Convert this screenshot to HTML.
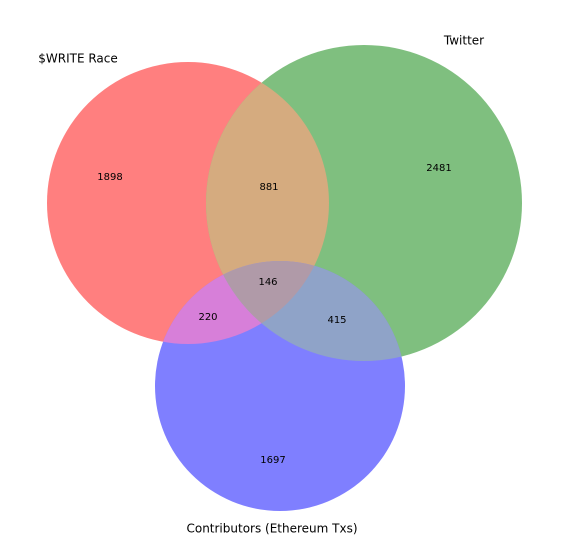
<!DOCTYPE html>
<html><head><meta charset="utf-8">
<style>
html,body{margin:0;padding:0;background:#fff;}
svg{display:block;font-family:"DejaVu Sans","Liberation Sans",sans-serif;}
</style></head>
<body>
<svg id="chart" width="568" height="558" viewBox="0 0 568 558">
<defs>
<clipPath id="cR"><circle cx="188" cy="203" r="141"/></clipPath>
<clipPath id="cG"><circle cx="364" cy="203" r="158"/></clipPath>
<clipPath id="cB"><circle cx="280" cy="386" r="125"/></clipPath>
</defs>
<g id="regions"></g>
<g id="labels"></g>
</svg>
<script>
const setNames = ["$WRITE Race", "Twitter", "Contributors (Ethereum Txs)"];
const setLabelX = [78, 464, 272];
const setLabelY = [59, 41, 529];
const regionIds = ["100", "010", "001", "110", "101", "011", "111"];
const regionCounts = [1898, 2481, 1697, 881, 220, 415, 146];
const regionLabelX = [110, 439, 273, 269, 208, 337, 268];
const regionLabelY = [177, 168, 460, 187, 317, 320, 282];

const NS = "http://www.w3.org/2000/svg";
const circles = [{cx:188,cy:203,r:141,clip:"cR"},{cx:364,cy:203,r:158,clip:"cG"},{cx:280,cy:386,r:125,clip:"cB"}];
const colors = {"100":"#ff7f7f","010":"#7fbf7f","001":"#7f7fff","110":"#d5ab7f","101":"#d77fd9","011":"#8fa3c8","111":"#b09aa8"};
const regionG = document.getElementById("regions");
const labelG = document.getElementById("labels");

regionIds.forEach((id) => {
  const idx = [...id].map((c,i)=>c==="1"?i:-1).filter(i=>i>=0);
  const base = circles[idx[0]];
  let el = document.createElementNS(NS, "circle");
  el.setAttribute("cx", base.cx); el.setAttribute("cy", base.cy); el.setAttribute("r", base.r);
  el.setAttribute("fill", colors[id]);
  
  
  let node = el;
  for (let k = 1; k < idx.length; k++) {
    const g = document.createElementNS(NS, "g");
    g.setAttribute("clip-path", "url(#" + circles[idx[k]].clip + ")");
    g.appendChild(node);
    node = g;
  }
  regionG.appendChild(node);
});

regionCounts.forEach((v, i) => {
  const t = document.createElementNS(NS, "text");
  t.setAttribute("x", regionLabelX[i]); t.setAttribute("y", regionLabelY[i]);
  t.setAttribute("text-anchor", "middle"); t.setAttribute("dominant-baseline", "middle");
  t.setAttribute("font-size", "10"); t.setAttribute("fill", "#000");
  t.textContent = v;
  
  
  labelG.appendChild(t);
});

setNames.forEach((n, i) => {
  const t = document.createElementNS(NS, "text");
  t.setAttribute("x", setLabelX[i]); t.setAttribute("y", setLabelY[i]);
  t.setAttribute("text-anchor", "middle"); t.setAttribute("dominant-baseline", "middle");
  t.setAttribute("font-size", "12"); t.setAttribute("fill", "#000");
  t.textContent = n;
  
  
  labelG.appendChild(t);
});
</script>
</body></html>
